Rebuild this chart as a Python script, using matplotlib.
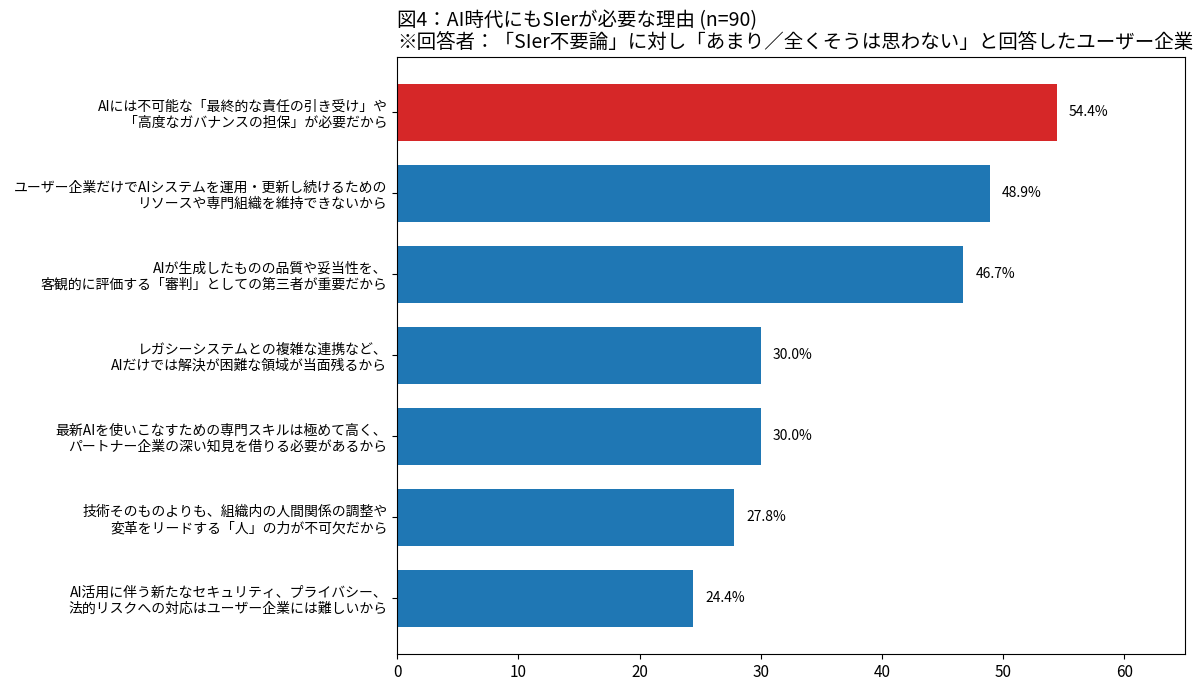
import matplotlib
matplotlib.use("Agg")
import matplotlib.pyplot as plt

plt.rcParams['font.family'] = ['Noto Sans CJK JP', 'DejaVu Sans']

reasons = [
    "AIには不可能な「最終的な責任の引き受け」や\n「高度なガバナンスの担保」が必要だから",
    "ユーザー企業だけでAIシステムを運用・更新し続けるための\nリソースや専門組織を維持できないから",
    "AIが生成したものの品質や妥当性を、\n客観的に評価する「審判」としての第三者が重要だから",
    "レガシーシステムとの複雑な連携など、\nAIだけでは解決が困難な領域が当面残るから",
    "最新AIを使いこなすための専門スキルは極めて高く、\nパートナー企業の深い知見を借りる必要があるから",
    "技術そのものよりも、組織内の人間関係の調整や\n変革をリードする「人」の力が不可欠だから",
    "AI活用に伴う新たなセキュリティ、プライバシー、\n法的リスクへの対応はユーザー企業には難しいから",
]
values = [54.4, 48.9, 46.7, 30.0, 30.0, 27.8, 24.4]
colors = ['#d62728'] + ['#1f77b4'] * 6

fig = plt.figure(figsize=(12, 6.92), dpi=100)
ax = fig.add_axes([0.331, 0.055, 0.6565, 0.863])

ypos = list(range(len(values)))[::-1]
ax.barh(ypos, values, height=0.7, color=colors)
ax.set_yticks(ypos)
ax.set_yticklabels(reasons, fontsize=10)
ax.set_xlim(0, 65)
ax.tick_params(axis='x', labelsize=11)

for y, v in zip(ypos, values):
    ax.text(v + 1, y, f"{v:.1f}%", va='center', ha='left', fontsize=10)

ax.set_title("図4：AI時代にもSIerが必要な理由 (n=90)\n"
             "※回答者：「SIer不要論」に対し「あまり／全くそうは思わない」と回答したユーザー企業",
             loc='left', fontsize=14, linespacing=1.1)

fig.savefig("out.png", dpi=100)
